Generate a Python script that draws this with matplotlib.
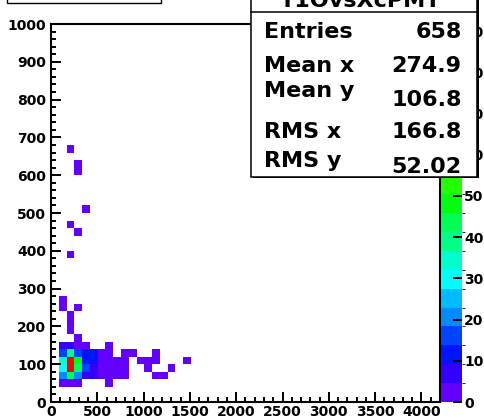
import numpy as np
import matplotlib
matplotlib.use("Agg")
import matplotlib.pyplot as plt
from matplotlib.colors import ListedColormap, BoundaryNorm
from matplotlib.patches import Rectangle
from matplotlib.lines import Line2D
from matplotlib.ticker import MultipleLocator
import colorsys

# ---------------- data ----------------
x_min, x_max, x_nbins = 0, 4200, 50
y_min, y_max, y_nbins = 0, 1000, 50
z_max = 91.7
n_contours = 20

cell_x = [126, 210, 294, 630,
          126, 210, 294, 378, 462, 546, 630, 714, 798, 1134, 1218,
          126, 210, 294, 378, 462, 546, 630, 714, 798, 1050, 1302,
          126, 210, 294, 378, 462, 546, 630, 714, 798, 966, 1050, 1134, 1470,
          126, 210, 294, 378, 462, 546, 630, 798, 882, 1134,
          126, 210, 294, 378, 630,
          294, 210, 210, 210, 126, 294, 126, 210, 294, 210, 378, 294, 294, 210]
cell_y = [50, 50, 50, 50,
          70, 70, 70, 70, 70, 70, 70, 70, 70, 70, 70,
          90, 90, 90, 90, 90, 90, 90, 90, 90, 90, 90,
          110, 110, 110, 110, 110, 110, 110, 110, 110, 110, 110, 110, 110,
          130, 130, 130, 130, 130, 130, 130, 130, 130, 130,
          150, 150, 150, 150, 150,
          170, 190, 210, 230, 250, 250, 270, 390, 450, 470, 510, 610, 630, 670]
cell_n = [4, 4, 2, 1,
          20, 45, 20, 7, 7, 3, 2, 2, 1, 1, 1,
          31, 90, 44, 17, 7, 4, 2, 2, 1, 1, 1,
          34, 88, 46, 11, 11, 4, 2, 2, 1, 1, 1, 1, 1,
          16, 40, 16, 10, 10, 3, 3, 1, 1, 1,
          8, 7, 2, 2, 1,
          1, 1, 1, 1, 1, 1, 1, 1, 1, 1, 1, 1, 1, 1]

x_ticks = [0, 500, 1000, 1500, 2000, 2500, 3000, 3500, 4000]
y_ticks = [0, 100, 200, 300, 400, 500, 600, 700, 800, 900, 1000]
z_ticks = [0, 10, 20, 30, 40, 50, 60, 70, 80, 90]

stats_title = "T1OvsXcPMT"
stats_labels = ["Entries", "Mean x", "Mean y", "RMS x", "RMS y"]
stats_values = ["658", "274.9", "106.8", "166.8", "52.02"]

# ---------------- figure ----------------
W, H = 485, 420
fig = plt.figure(figsize=(W / 100, H / 100), dpi=100)
fig.patch.set_facecolor("white")

def fx(px):
    return px / W

def fy(py):
    return 1 - py / H

FONT = "DejaVu Sans"
TSIZE = 10

ax_l, ax_r, ax_t, ax_b = 51, 440, 24, 402
ax = fig.add_axes([fx(ax_l), fy(ax_b), (ax_r - ax_l) / W, (ax_b - ax_t) / H])

hist, xe, ye = np.histogram2d(cell_x, cell_y, bins=[x_nbins, y_nbins],
                              range=[[x_min, x_max], [y_min, y_max]],
                              weights=cell_n)
Z = np.ma.masked_equal(hist.T, 0)

# ROOT "pretty" palette (50 colours violet -> red), 20 contour levels
pal = [colorsys.hls_to_rgb((280 - (i + 1) * 280 / 50) / 360, 0.5, 1.0) for i in range(50)]
cols = [pal[int((k + 0.99) * 50 / n_contours)] for k in range(n_contours)]
cmap = ListedColormap(cols)
levels = np.linspace(0, z_max, n_contours + 1)
norm = BoundaryNorm(levels, n_contours)

mesh = ax.pcolormesh(xe, ye, Z, cmap=cmap, norm=norm)
ax.set_xlim(x_min, x_max)
ax.set_ylim(y_min, y_max)

for s in ax.spines.values():
    s.set_linewidth(1.5)

ax.set_xticks(x_ticks)
ax.set_yticks(y_ticks)
ax.xaxis.set_minor_locator(MultipleLocator(100))
ax.yaxis.set_minor_locator(MultipleLocator(20))
ax.tick_params(which="major", direction="in", length=7.5, width=1.4)
ax.tick_params(which="minor", direction="in", length=3.8, width=1.4)
ax.tick_params(axis="x", which="major", pad=2.5)
ax.tick_params(axis="y", which="major", pad=3.5)
for lab in ax.get_xticklabels() + ax.get_yticklabels():
    lab.set_fontfamily(FONT)
    lab.set_fontweight("bold")
    lab.set_fontsize(TSIZE)

# colour bar
cax = fig.add_axes([fx(441), fy(ax_b), 21 / W, (ax_b - ax_t) / H])
cb = fig.colorbar(mesh, cax=cax, ticks=z_ticks)
cb.outline.set_visible(False)
cax.yaxis.set_ticks_position("right")
cax.tick_params(direction="in", length=6.5, width=1.4, pad=1.5)
for lab in cax.get_yticklabels():
    lab.set_fontfamily(FONT)
    lab.set_fontweight("bold")
    lab.set_fontsize(TSIZE)

# ---------------- statistics box ----------------
bx0, bx1, by1 = 251, 477, 176.7
shadow = Rectangle((fx(bx0 + 1.5), fy(by1 + 1.5)), (bx1 - bx0) / W, (by1 + 20) / H,
                   transform=fig.transFigure, facecolor="black", edgecolor="black",
                   linewidth=0, zorder=9)
fig.add_artist(shadow)
box = Rectangle((fx(bx0), fy(by1)), (bx1 - bx0) / W, (by1 + 20) / H,
                transform=fig.transFigure, facecolor="white", edgecolor="black",
                linewidth=1.1, zorder=10)
fig.add_artist(box)
fig.add_artist(Line2D([fx(bx0), fx(bx1)], [fy(12.3), fy(12.3)], transform=fig.transFigure,
                      color="black", linewidth=1.1, zorder=11))
fig.text(fx(361), fy(6.7), stats_title, ha="center", va="baseline",
         fontfamily=FONT, fontweight="bold", fontsize=16, zorder=12)

label_base = [37.7, 71.7, 96.7, 138.3, 166.7]
value_base = [37.7, 71.7, 106.0, 138.3, 172.7]
for lab, val, lb, vb in zip(stats_labels, stats_values, label_base, value_base):
    fig.text(fx(264), fy(lb), lab, ha="left", va="baseline",
             fontfamily=FONT, fontweight="bold", fontsize=16, zorder=12)
    fig.text(fx(461.7), fy(vb), val, ha="right", va="baseline",
             fontfamily=FONT, fontweight="bold", fontsize=16, zorder=12)

# partially visible title box at the top-left
tbox = Rectangle((fx(7), fy(3.3)), (161 - 7) / W, 20 / H, transform=fig.transFigure,
                 facecolor="white", edgecolor="black", linewidth=1.0, zorder=10)
fig.add_artist(tbox)

fig.savefig("out.png", dpi=100, facecolor="white")
